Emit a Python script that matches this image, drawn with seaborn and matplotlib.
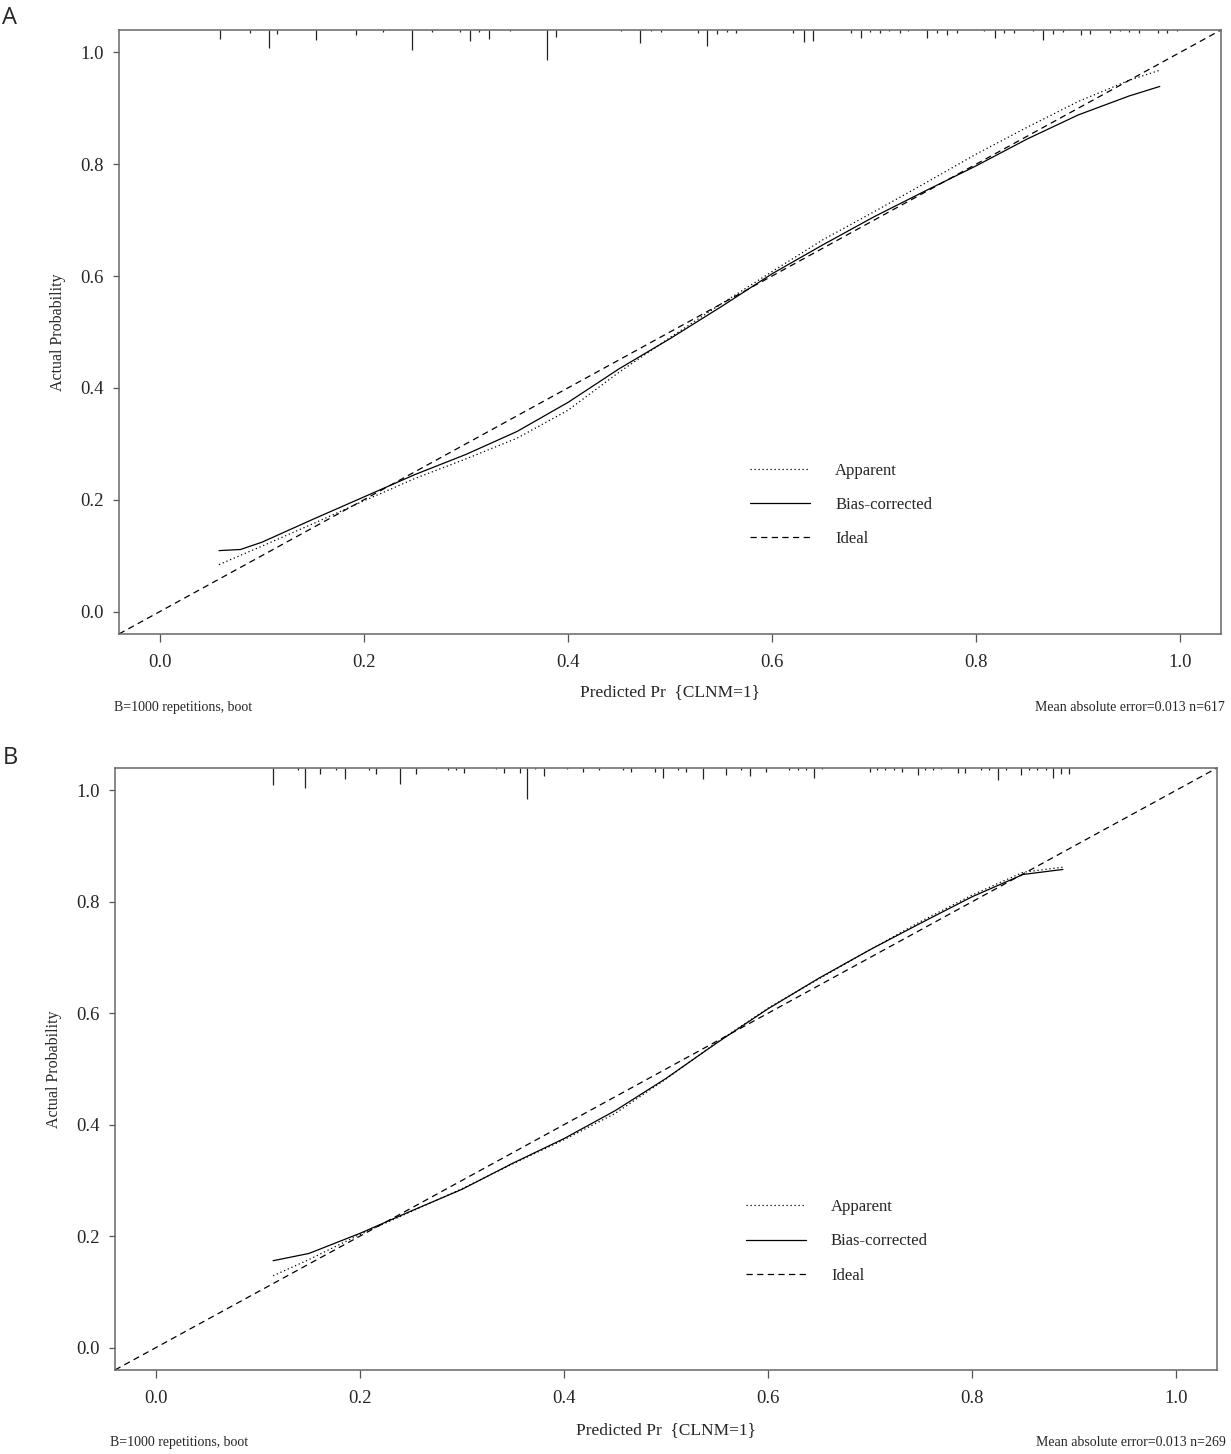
import numpy as np
import matplotlib
matplotlib.use('Agg')
import matplotlib.pyplot as plt
import seaborn as sns

# ---- panel A (training set) ----
a_app_x = [0.058, 0.10, 0.15, 0.20, 0.25, 0.30, 0.35, 0.40, 0.45, 0.50, 0.55, 0.60,
           0.65, 0.70, 0.75, 0.80, 0.85, 0.90, 0.95, 0.98]
a_app_y = [0.084, 0.117, 0.157, 0.198, 0.238, 0.273, 0.310, 0.360, 0.428, 0.490, 0.550, 0.608,
           0.665, 0.715, 0.766, 0.818, 0.866, 0.912, 0.950, 0.968]
a_bias_x = [0.058, 0.079, 0.10, 0.15, 0.20, 0.25, 0.30, 0.35, 0.40, 0.45, 0.50, 0.55, 0.60,
            0.65, 0.70, 0.75, 0.80, 0.85, 0.90, 0.95, 0.98]
a_bias_y = [0.109, 0.111, 0.124, 0.165, 0.205, 0.245, 0.281, 0.322, 0.374, 0.434, 0.488, 0.545, 0.604,
            0.656, 0.706, 0.752, 0.797, 0.845, 0.888, 0.922, 0.939]
a_rug_x = [0.059, 0.088, 0.107, 0.115, 0.153, 0.192, 0.219, 0.247, 0.267, 0.294, 0.304, 0.313,
           0.323, 0.343, 0.379, 0.388, 0.452, 0.471, 0.481, 0.491, 0.527, 0.536, 0.546, 0.556,
           0.565, 0.621, 0.631, 0.640, 0.677, 0.687, 0.696, 0.706, 0.715, 0.725, 0.733, 0.752,
           0.762, 0.771, 0.781, 0.808, 0.818, 0.827, 0.837, 0.856, 0.866, 0.875, 0.885, 0.903,
           0.912, 0.931, 0.941, 0.950, 0.960, 0.978, 0.987, 0.997]
a_rug_freq = [9, 3, 18, 4, 10, 5, 2, 20, 2, 2, 11, 2,
              9, 1, 30, 7, 1, 13, 1, 2, 3, 16, 4, 2,
              3, 3, 12, 11, 3, 8, 2, 3, 1, 3, 1, 8,
              3, 5, 3, 1, 8, 3, 3, 1, 10, 4, 2, 5,
              4, 3, 1, 2, 3, 3, 3, 1]

# ---- panel B (validation set) ----
b_app_x = [0.115, 0.15, 0.20, 0.25, 0.30, 0.35, 0.40, 0.45, 0.50, 0.55, 0.60, 0.65,
           0.70, 0.75, 0.80, 0.85, 0.889]
b_app_y = [0.129, 0.158, 0.203, 0.244, 0.285, 0.330, 0.373, 0.420, 0.482, 0.548, 0.609, 0.662,
           0.714, 0.765, 0.812, 0.853, 0.862]
b_bias_x = [0.115, 0.15, 0.20, 0.25, 0.30, 0.35, 0.40, 0.45, 0.50, 0.55, 0.60, 0.65,
            0.70, 0.75, 0.80, 0.85, 0.889]
b_bias_y = [0.156, 0.169, 0.205, 0.245, 0.284, 0.331, 0.375, 0.425, 0.483, 0.547, 0.608, 0.663,
            0.714, 0.762, 0.809, 0.849, 0.858]
b_rug_x = [0.115, 0.139, 0.146, 0.161, 0.177, 0.185, 0.209, 0.216, 0.239, 0.255,
           0.286, 0.294, 0.302, 0.333, 0.341, 0.357, 0.364, 0.372, 0.380, 0.403,
           0.419, 0.434, 0.458, 0.466, 0.489, 0.497, 0.512, 0.520, 0.536, 0.559,
           0.574, 0.582, 0.598, 0.621, 0.629, 0.637, 0.645, 0.653, 0.700, 0.707,
           0.715, 0.723, 0.731, 0.747, 0.754, 0.762, 0.770, 0.786, 0.793, 0.809,
           0.817, 0.825, 0.833, 0.848, 0.856, 0.864, 0.872, 0.879, 0.887, 0.895]
b_rug_freq = [17, 2, 20, 6, 2, 11, 2, 6, 16, 6,
              2, 2, 5, 1, 5, 5, 31, 1, 8, 1,
              4, 2, 2, 4, 4, 10, 2, 4, 11, 7,
              2, 8, 4, 2, 2, 2, 10, 1, 4, 2,
              2, 2, 4, 7, 2, 2, 1, 5, 5, 2,
              2, 12, 2, 7, 2, 2, 2, 10, 6, 6]

ticks = [0.0, 0.2, 0.4, 0.6, 0.8, 1.0]
tick_labels = ['0.0', '0.2', '0.4', '0.6', '0.8', '1.0']

sns.set_style('white')
plt.rcParams['font.family'] = ['Liberation Serif', 'DejaVu Serif']

DOT = (0, (1, 2.2))
DASH = (0, (5, 3.5))


def draw_panel(ax, app_x, app_y, bias_x, bias_y, rug_x, rug_freq, n, label_y, note_y, right_x):
    sns.lineplot(x=app_x, y=app_y, ax=ax, color='black', lw=0.9, linestyle=DOT,
                 label='Apparent', sort=False, estimator=None)
    sns.lineplot(x=bias_x, y=bias_y, ax=ax, color='black', lw=0.9,
                 label='Bias-corrected', sort=False, estimator=None)
    ax.axline((0, 0), slope=1, color='black', lw=0.9, linestyle=DASH, label='Ideal')

    # rug of predicted probabilities hanging from the top border
    h = np.array(rug_freq) * 0.00166
    ax.vlines(rug_x, 1 - h, 1, transform=ax.get_xaxis_transform(),
              color='#222222', lw=0.9)

    ax.set_xlim(-0.04, 1.04)
    ax.set_ylim(-0.04, 1.04)
    ax.set_xticks(ticks)
    ax.set_xticklabels(tick_labels)
    ax.set_yticks(ticks)
    ax.set_yticklabels(tick_labels)
    ax.tick_params(axis='x', direction='out', length=5.5, width=0.9, pad=9, labelsize=13.5,
                   color='#555555', bottom=True)
    ax.tick_params(axis='y', direction='out', length=4.3, width=0.9, pad=6.5, labelsize=13.5,
                   color='#555555', left=True)
    for s in ax.spines.values():
        s.set_visible(True)
        s.set_color('#666666')
        s.set_linewidth(1.1)

    ax.set_xlabel('Predicted Pr  {CLNM=1}', fontsize=12.5)
    ax.xaxis.set_label_coords(0.5, label_y)
    ax.set_ylabel('Actual Probability', fontsize=11.5)
    ax.yaxis.set_label_coords(-0.048, 0.5)

    ax.text(-0.0045, note_y, 'B=1000 repetitions, boot', transform=ax.transAxes,
            ha='left', va='center', fontsize=10)
    ax.text(right_x, note_y, f'Mean absolute error=0.013 n={n}', transform=ax.transAxes,
            ha='right', va='center', fontsize=10)

    ax.legend(loc='center left', bbox_to_anchor=(0.5726, 0.2136), frameon=False,
              fontsize=12, handlelength=3.6, handletextpad=1.5, labelspacing=1.1,
              borderpad=0, borderaxespad=0)


fig = plt.figure(figsize=(12.31, 14.54), dpi=100)
axA = fig.add_axes([0.0967, 0.5640, 0.8952, 0.4154])
axB = fig.add_axes([0.0934, 0.0578, 0.8952, 0.4140])

draw_panel(axA, a_app_x, a_app_y, a_bias_x, a_bias_y, a_rug_x, a_rug_freq, 617,
           -0.083, -0.121, 1.0036)
draw_panel(axB, b_app_x, b_app_y, b_bias_x, b_bias_y, b_rug_x, b_rug_freq, 269,
           -0.087, -0.121, 1.008)

fig.text(0.002, 1 - 18 / 1454, 'A', fontsize=17, family=['Open Sans', 'DejaVu Sans'],
         ha='left', va='center')
fig.text(0.002, 1 - 758 / 1454, 'B', fontsize=17, family=['Open Sans', 'DejaVu Sans'],
         ha='left', va='center')

plt.savefig('out.png', dpi=100)
